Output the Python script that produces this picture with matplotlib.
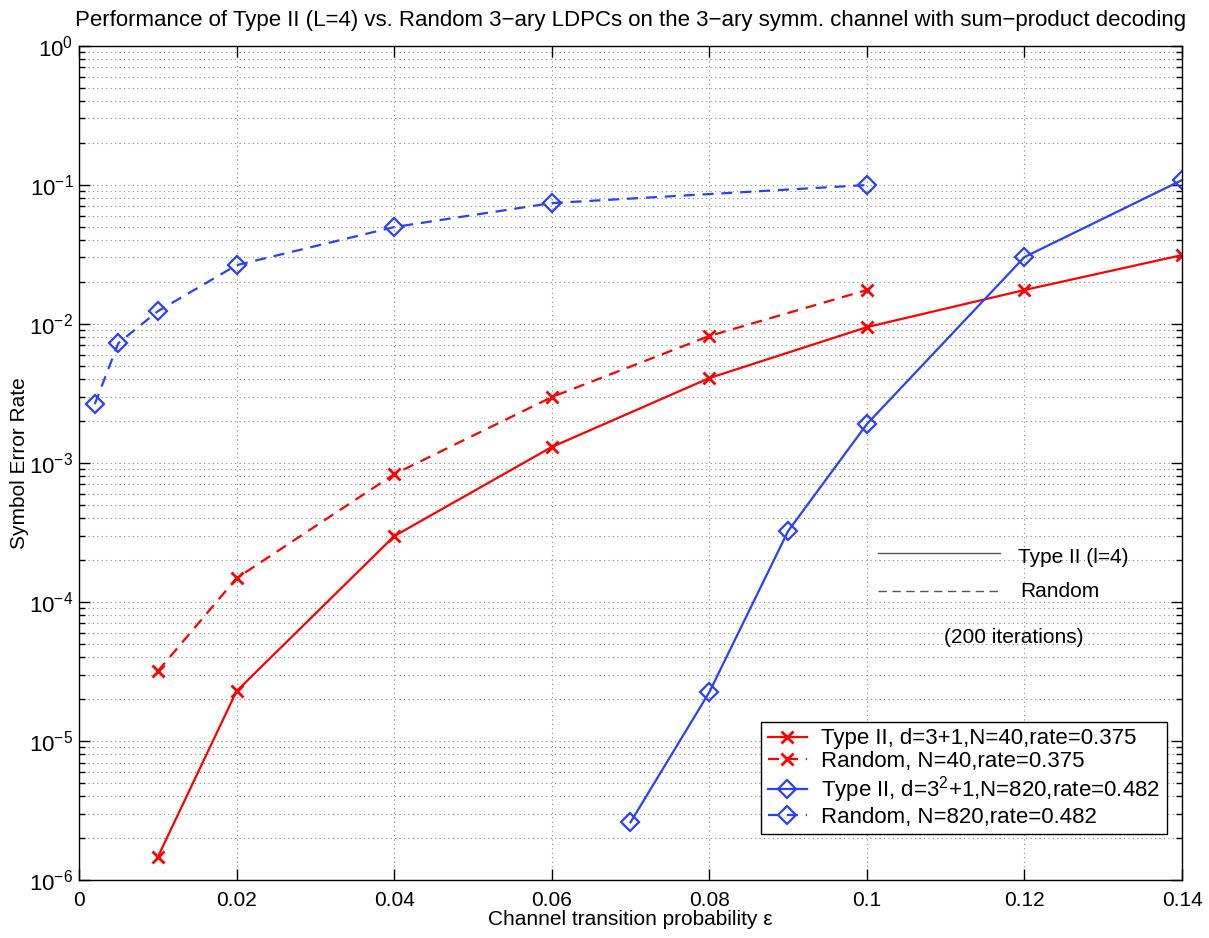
import matplotlib
matplotlib.use("Agg")
import matplotlib.pyplot as plt
from matplotlib.lines import Line2D
from matplotlib.ticker import LogLocator, NullFormatter

plt.rcParams['font.family'] = ['Liberation Sans', 'DejaVu Sans']
plt.rcParams['mathtext.fontset'] = 'custom'
plt.rcParams['mathtext.rm'] = 'Liberation Sans'
plt.rcParams['mathtext.it'] = 'Liberation Sans:italic'

# ---- data ----
x_type2_n40 = [0.01, 0.02, 0.04, 0.06, 0.08, 0.10, 0.12, 0.14]
y_type2_n40 = [1.46e-6, 2.28e-5, 2.97e-4, 1.30e-3, 4.07e-3, 9.46e-3, 1.75e-2, 3.12e-2]

x_rand_n40 = [0.01, 0.02, 0.04, 0.06, 0.08, 0.10]
y_rand_n40 = [3.17e-5, 1.48e-4, 8.28e-4, 2.97e-3, 8.17e-3, 1.75e-2]

x_type2_n820 = [0.07, 0.08, 0.09, 0.10, 0.12, 0.14]
y_type2_n820 = [2.6e-6, 2.24e-5, 3.23e-4, 1.90e-3, 3.02e-2, 0.108]

x_rand_n820 = [0.002, 0.005, 0.01, 0.02, 0.04, 0.06, 0.10]
y_rand_n820 = [2.64e-3, 7.26e-3, 1.23e-2, 2.64e-2, 4.96e-2, 7.38e-2, 0.0995]

labels = ["Type II, d=3+1,N=40,rate=0.375",
          "Random, N=40,rate=0.375",
          "Type II, d=3$^2$+1,N=820,rate=0.482",
          "Random, N=820,rate=0.482"]

xticks = [0, 0.02, 0.04, 0.06, 0.08, 0.1, 0.12, 0.14]
xticklabels = ["0", "0.02", "0.04", "0.06", "0.08", "0.1", "0.12", "0.14"]

title = "Performance of Type II (L=4) vs. Random 3\u2212ary LDPCs on the 3\u2212ary symm. channel with sum\u2212product decoding"

RED = '#ff0000'
BLUE = '#2a40ff'
DASH = (0, (5, 3.5))

fig = plt.figure(figsize=(12.09, 9.38), dpi=100)
ax = fig.add_axes([0.0653, 0.0618, 0.9124, 0.8895])

ax.plot(x_type2_n40, y_type2_n40, color=RED, lw=1.6, marker='x', ms=8, mew=2, label=labels[0])
ax.plot(x_rand_n40, y_rand_n40, color=RED, lw=1.6, ls=DASH, marker='x', ms=8, mew=2, label=labels[1])
ax.plot(x_type2_n820, y_type2_n820, color=BLUE, lw=1.6, marker='D', ms=9, mew=1.6, mfc='none', label=labels[2])
ax.plot(x_rand_n820, y_rand_n820, color=BLUE, lw=1.6, ls=DASH, marker='D', ms=9, mew=1.6, mfc='none', label=labels[3])

ax.set_yscale('log')
ax.set_xlim(0, 0.14)
ax.set_ylim(1e-6, 1)
ax.set_xticks(xticks)
ax.set_xticklabels(xticklabels)
ax.yaxis.set_major_locator(LogLocator(base=10, numticks=10))
ax.yaxis.set_minor_locator(LogLocator(base=10, subs=range(2, 10), numticks=100))
ax.yaxis.set_minor_formatter(NullFormatter())

ax.tick_params(which='both', direction='in', top=True, right=True, labelsize=15)
ax.tick_params(which='major', length=8, width=1)
ax.tick_params(which='minor', length=4, width=1)
ax.tick_params(axis='x', pad=8)
ax.tick_params(axis='y', pad=4, labelsize=16)

ax.grid(True, which='major', axis='x', ls=(0, (1, 3)), color='#888888', lw=0.8)
ax.grid(True, which='both', axis='y', ls=(0, (1, 3)), color='#888888', lw=0.8)

for s in ax.spines.values():
    s.set_linewidth(1.0)

ax.set_title(title, fontsize=16, pad=14)
ax.set_xlabel("Channel transition probability \u03b5", fontsize=15, labelpad=0)
ax.set_ylabel("Symbol Error Rate", fontsize=15, labelpad=0)

leg = ax.legend(loc='lower right', bbox_to_anchor=(0.9864, 0.0548), fontsize=16,
                frameon=True, fancybox=False, edgecolor='black', framealpha=1,
                handlelength=1.75, borderpad=0.3, labelspacing=0.08, handletextpad=0.65,
                borderaxespad=0)
leg.get_frame().set_linewidth(1.0)

# annotation inside the plot
def ax_pt(px, py):
    # convert reference pixel coords to axes fraction
    return ((px - 79) / 1103.0, (880 - py) / 834.3)

x0, y0 = ax_pt(878, 553)
x1, _ = ax_pt(1000, 553)
ax.add_line(Line2D([x0, x1], [y0, y0], transform=ax.transAxes, color='#555555', lw=1.0))
tx, ty = ax_pt(1018, 557)
ax.text(tx, ty, "Type II (l=4)", transform=ax.transAxes, fontsize=15, va='center', ha='left')

x0, y0 = ax_pt(878, 591)
x1, _ = ax_pt(1003, 591)
ax.add_line(Line2D([x0, x1], [y0, y0], transform=ax.transAxes, color='#555555', lw=1.0, ls=(0, (6, 4))))
tx, ty = ax_pt(1020, 591)
ax.text(tx, ty, "Random", transform=ax.transAxes, fontsize=15, va='center', ha='left')

tx, ty = ax_pt(1014, 637)
ax.text(tx, ty, "(200 iterations)", transform=ax.transAxes, fontsize=15, va='center', ha='center')

fig.savefig("out.png", dpi=100)
